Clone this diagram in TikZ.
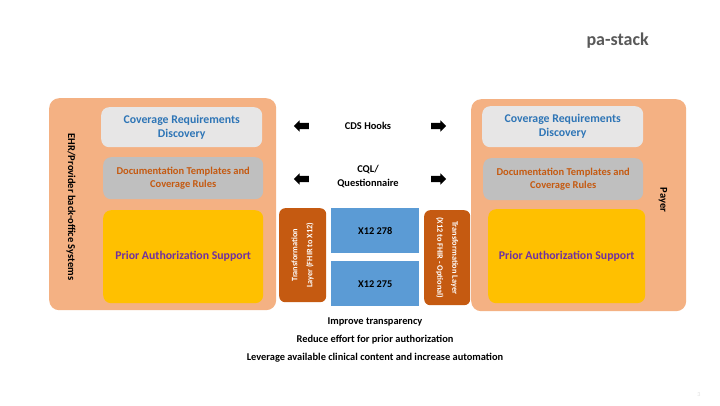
\documentclass[tikz,border=0pt]{standalone}
\usepackage{fontspec}
\setmainfont{Carlito}
\usetikzlibrary{shapes.arrows}
\definecolor{peach}{HTML}{F4B183}
\definecolor{lightg}{HTML}{E7E6E6}
\definecolor{midg}{HTML}{BFBFBF}
\definecolor{gold}{HTML}{FFC000}
\definecolor{rust}{HTML}{C55A11}
\definecolor{sky}{HTML}{5B9BD5}
\definecolor{tblue}{HTML}{2E75B6}
\definecolor{tpurple}{HTML}{7030A0}
\definecolor{titleg}{HTML}{595959}
\tikzset{
  blk/.style={anchor=north west, inner sep=0pt, align=center, font=\bfseries},
  bigbox/.style={blk, fill=peach, rounded corners=10pt},
  crd/.style={blk, fill=lightg, rounded corners=8pt, text=tblue, font=\bfseries\fontsize{11.8}{14}\selectfont},
  dtcr/.style={blk, fill=midg, rounded corners=8pt, text=rust, font=\bfseries\fontsize{10.5}{13}\selectfont},
  pas/.style={blk, fill=gold, rounded corners=8pt, text=tpurple, font=\bfseries\fontsize{11.8}{13}\selectfont},
  tlayer/.style={blk, fill=rust, rounded corners=6pt},
  tltext/.style={text=white, align=center, font=\bfseries\fontsize{8.3}{15}\selectfont},
  x12/.style={blk, fill=sky, font=\bfseries\fontsize{10.3}{12}\selectfont},
  lbl/.style={align=center, font=\bfseries\fontsize{10.4}{18}\selectfont},
  blockarrow/.style={single arrow, fill=black, inner xsep=0pt, inner ysep=3pt, minimum height=15pt, single arrow head extend=2.5pt, single arrow tip angle=90},
}
\begin{document}
\begin{tikzpicture}[x=1pt,y=-1pt]
\useasboundingbox (0,0) rectangle (720,405);
\fill[white] (0,0) rectangle (720,405);
\node[font=\bfseries\fontsize{18}{20}\selectfont, text=titleg, anchor=west] (title) at (583,41) {pa-stack};
\node[font=\fontsize{6}{7}\selectfont, text=black!12] (pgnum) at (699,395) {3};
% left
\node[bigbox, minimum width=227pt, minimum height=212pt] (ehr) at (49,98) {};
\node[rotate=-90, font=\bfseries\fontsize{10.5}{12}\selectfont] (ehrlbl) at (71,207) {EHR/Provider back-office Systems};
\node[crd, minimum width=161pt, minimum height=40pt] (crdL) at (101,107) {Coverage Requirements\\Discovery};
\node[dtcr, minimum width=160pt, minimum height=42pt] (dtcrL) at (103,157) {Documentation Templates and\\Coverage Rules};
\node[pas, minimum width=160pt, minimum height=93pt] (pasL) at (103,210) {Prior Authorization Support};
\node[tlayer, minimum width=47pt, minimum height=94pt] (tlL) at (279,208) {};
\node[tltext, rotate=90] (tlLt) at (tlL.center) {Transformation\\Layer (FHIR to X12)};
% center
\node[x12, minimum width=88pt, minimum height=45pt] (x278) at (331,208) {X12 278};
\node[x12, minimum width=88pt, minimum height=45pt] (x275) at (331,261) {X12 275};
\node[tlayer, minimum width=46pt, minimum height=95pt] (tlR) at (424,210) {};
\node[tltext, rotate=-90] (tlRt) at (tlR.center) {Transformation Layer\\(X12 to FHIR - Optional)};
% right
\node[bigbox, minimum width=215pt, minimum height=212pt] (payer) at (471,99) {};
\node[crd, minimum width=161pt, minimum height=41pt] (crdR) at (482,106) {Coverage Requirements\\Discovery};
\node[dtcr, minimum width=160pt, minimum height=42pt] (dtcrR) at (483,158) {Documentation Templates and\\Coverage Rules};
\node[pas, minimum width=157pt, minimum height=94pt] (pasR) at (488,209) {Prior Authorization Support};
\node[rotate=-90, font=\bfseries\fontsize{10.5}{12}\selectfont] (payerlbl) at (663,200) {Payer};
% exchanges
\node[lbl] (cds) at (368,126) {CDS Hooks};
\node[lbl] (cql) at (368,176) {CQL/\\[-4pt]Questionnaire};
\node[blockarrow, shape border rotate=180] (a1l) at (303,126) {};
\node[blockarrow] (a1r) at (437,126) {};
\node[blockarrow, shape border rotate=180] (a2l) at (303,179) {};
\node[blockarrow] (a2r) at (437,179) {};
% goals
\node[lbl] (g1) at (375,322) {Improve transparency};
\node[lbl] (g2) at (375,340) {Reduce effort for prior authorization};
\node[lbl] (g3) at (375,358) {Leverage available clinical content and increase automation};
\end{tikzpicture}
\end{document}
